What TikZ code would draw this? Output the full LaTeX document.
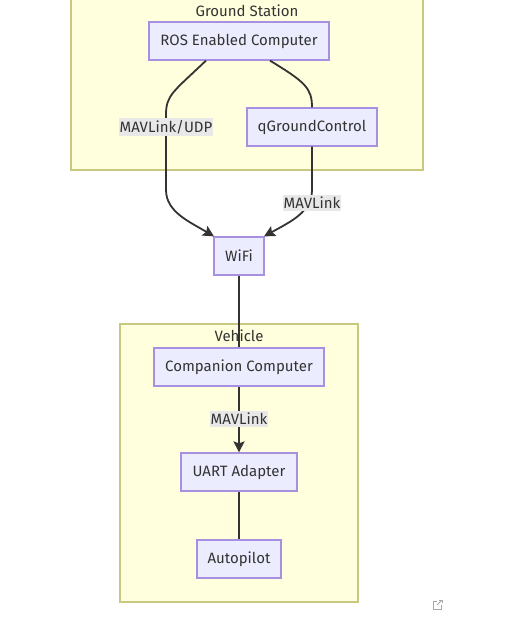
\documentclass[tikz,border=0pt]{standalone}
\usepackage{fontspec}
\setmainfont{Fira Sans}
\usetikzlibrary{arrows.meta}
\definecolor{clfill}{HTML}{FFFFDE}
\definecolor{clline}{HTML}{C8C880}
\definecolor{ndfill}{HTML}{ECECFF}
\definecolor{ndline}{HTML}{A890E0}
\definecolor{edge}{HTML}{333333}
\definecolor{lblbg}{HTML}{E8E8E8}
\definecolor{txt}{HTML}{333333}
\tikzset{
  box/.style={draw=ndline, fill=ndfill, line width=1.2pt, minimum height=38pt, inner xsep=0pt, text=txt, font=\fontsize{15}{17}\selectfont},
  cluster/.style={draw=clline, fill=clfill, line width=1.2pt},
  ctitle/.style={text=txt, font=\fontsize{15}{17}\selectfont},
  elabel/.style={fill=lblbg, inner xsep=1pt, inner ysep=2pt, text=txt, font=\fontsize{15}{17}\selectfont},
  conn/.style={draw=edge, line width=1.8pt},
  arr/.style={conn, -{Stealth[length=11pt,width=11pt,inset=2pt]}}
}
\begin{document}
\begin{tikzpicture}[x=1pt,y=-1pt]
\useasboundingbox (0,0) rectangle (509,629);
\fill[white] (0,0) rectangle (509,629);
% clusters
\draw[cluster] (71,-5) rectangle (423,170);
\node[ctitle] (gst) at (247,11) {Ground Station};
\draw[cluster] (120,324) rectangle (358,602);
% nodes
\node[box, minimum width=180pt] (ros) at (239,41) {ROS Enabled Computer};
\node[box, minimum width=130pt] (qgc) at (312,127) {qGroundControl};
\node[box, minimum width=50pt] (wifi) at (239,256) {WiFi};
\node[box, minimum width=170pt] (cc) at (239,367) {Companion Computer};
\node[box, minimum width=116pt] (uart) at (239,472) {UART Adapter};
\node[box, minimum width=84pt] (ap) at (239,559) {Autopilot};
% edges
\draw[arr] ([xshift=-33pt]ros.south) .. controls (173,92) and (166,95) .. (166,115)
  -- (166,190) .. controls (166,212) and (190,222) .. ([xshift=-25pt]wifi.north);
\node[elabel] (l1) at (166,127) {MAVLink/UDP};
\draw[conn] ([xshift=31pt]ros.south) .. controls (305,82) and (312,88) .. (qgc.north);
\draw[arr] (qgc.south) -- (312,190) .. controls (312,212) and (290,222) .. ([xshift=25pt]wifi.north);
\node[elabel] (l2) at (312,203) {MAVLink};
\draw[conn] (wifi.south) -- (cc.north);
\node[ctitle] (veh) at (239,336) {Vehicle};
\draw[arr] (cc.south) -- (uart.north);
\node[elabel] (l3) at (239,419) {MAVLink};
\draw[conn] (uart.south) -- (ap.north);
% external link icon
\draw[gray!70, line width=0.8pt] (437,601) -- (433,601) -- (433,609) -- (441,609) -- (441,605);
\draw[gray!70, line width=0.8pt] (437,605) -- (442,600);
\draw[gray!70, line width=0.8pt] (439,600) -- (442,600) -- (442,603);
\end{tikzpicture}
\end{document}
